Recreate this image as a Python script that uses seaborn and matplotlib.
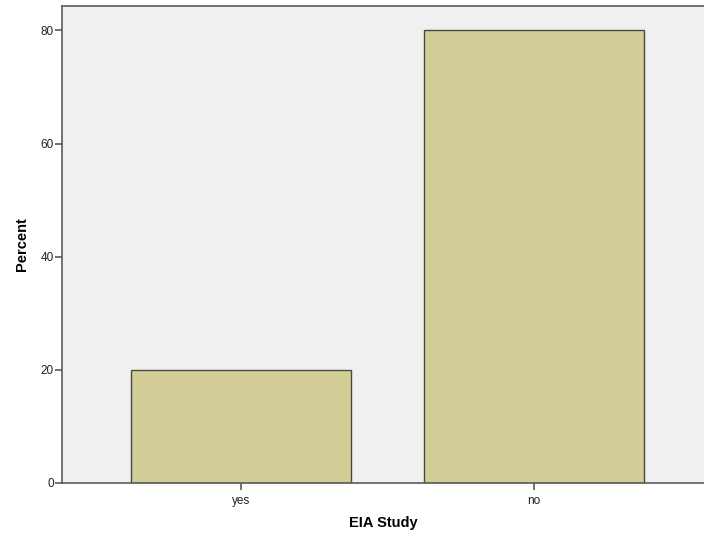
import pandas as pd
import matplotlib
matplotlib.use('Agg')
import matplotlib.pyplot as plt
import seaborn as sns

# data
categories = ['yes', 'no']
percent = [20, 80]

df = pd.DataFrame({'EIA Study': categories, 'Percent': percent})

sns.set_style('ticks')
plt.rcParams['font.family'] = ['Liberation Sans', 'DejaVu Sans']

fig = plt.figure(figsize=(7.04, 5.37), dpi=100)
ax = fig.add_axes([0.0881, 0.1006, 0.912, 0.888])
ax.set_facecolor('#F0F0F0')

sns.barplot(data=df, x='EIA Study', y='Percent', order=categories,
            color='#D3CE97', saturation=1, width=0.75,
            edgecolor='#4A4A3C', linewidth=1.0, ax=ax)

ax.set_xlim(-0.611, 1.58)
ax.set_ylim(0, 84.3)
ax.set_yticks([0, 20, 40, 60, 80])

for side in ['left', 'bottom', 'top']:
    ax.spines[side].set_visible(True)
    ax.spines[side].set_color('#5A5A5A')
    ax.spines[side].set_linewidth(1.2)
ax.spines['right'].set_visible(False)

ax.tick_params(axis='both', bottom=True, left=True, top=False, right=False,
               direction='out', length=5, width=1.2,
               color='#5A5A5A', labelsize=8.5, labelcolor='#222222', pad=1)
ax.tick_params(axis='x', length=5, pad=4)

ax.set_xlabel('EIA Study', fontsize=10.5, fontweight='bold', labelpad=6, color='black')
ax.set_ylabel('Percent', fontsize=10.5, fontweight='bold', labelpad=8, color='black')

fig.savefig('out.png', dpi=100)
